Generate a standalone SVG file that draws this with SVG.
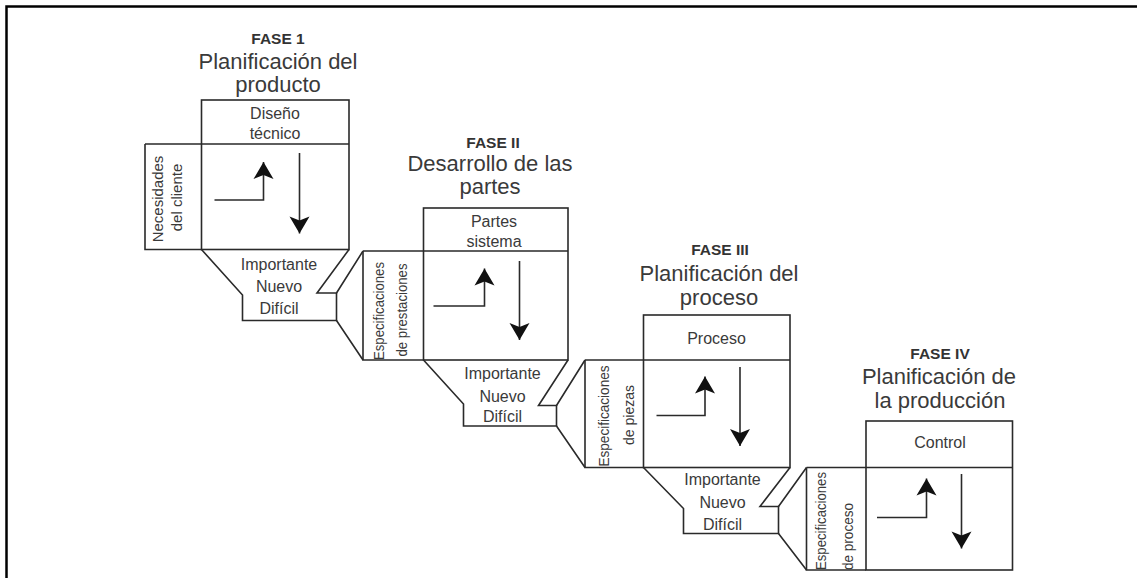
<svg xmlns="http://www.w3.org/2000/svg" width="1137" height="578" viewBox="0 0 1137 578">
  <style>
    .frame { fill: none; stroke: #000; stroke-width: 2.5; }
    .ln { fill: none; stroke: #2a2a2a; stroke-width: 1.6; stroke-linejoin: miter; }
    .arr { fill: none; stroke: #2a2a2a; stroke-width: 1.6; marker-end: url(#head); }
    .fase { font-family: "Liberation Sans", Arial, sans-serif; font-weight: bold; font-size: 15.5px; fill: #333; text-anchor: middle; }
    .tit { font-family: "Liberation Sans", Arial, sans-serif; font-size: 22px; fill: #3a3a3a; text-anchor: middle; }
    .lbl { font-family: "Liberation Sans", Arial, sans-serif; font-size: 16px; fill: #3a3a3a; text-anchor: middle; }
    .tab { font-family: "Liberation Sans", Arial, sans-serif; font-size: 15px; fill: #3a3a3a; text-anchor: middle; }
  </style>
  <defs>
    <marker id="head" markerUnits="userSpaceOnUse" markerWidth="20" markerHeight="24" viewBox="-18 -12 20 24" refX="0" refY="0" orient="auto">
      <path d="M0,0 L-17,-10 L-13,0 L-17,10 Z" fill="#111"/>
    </marker>
  </defs>

  <rect width="1137" height="578" fill="#fff"/>
  <!-- page frame: top and left rules -->
  <path class="frame" d="M6.5,578 V6.5 H1137"/>

  <!-- FASE 1 -->
  <g id="fase1">
    <text class="fase" x="278" y="43.5">FASE 1</text>
    <text class="tit" x="278" y="68.5">Planificación del</text>
    <text class="tit" x="278" y="91.5">producto</text>
    <rect class="ln" x="201.5" y="100" width="147.5" height="149.5"/>
    <path class="ln" d="M145,144 H349 M145,144 V249.5 H201.5"/>
    <text class="lbl" x="275" y="118.5">Diseño</text>
    <text class="lbl" x="275" y="138.5">técnico</text>
    <text class="tab" transform="translate(163,199) rotate(-90)">Necesidades</text>
    <text class="tab" transform="translate(181.5,197.5) rotate(-90)">del cliente</text>
    <path class="arr" d="M214.5,200 H263.5 V162"/>
    <path class="arr" d="M299.5,153 V233.5"/>
    <path class="ln" d="M201.5,249.5 L242.5,295 V320.5 H336.5 V293 H317 L349,249.5"/>
    <text class="lbl" x="279" y="270">Importante</text>
    <text class="lbl" x="279" y="291.5">Nuevo</text>
    <text class="lbl" x="279" y="314">Difícil</text>
  </g>

  <!-- FASE II -->
  <g id="fase2">
    <text class="fase" x="493" y="147.5">FASE II</text>
    <text class="tit" x="490" y="170.5">Desarrollo de las</text>
    <text class="tit" x="490" y="193.5">partes</text>
    <rect class="ln" x="423.5" y="208" width="144.5" height="152"/>
    <path class="ln" d="M363,251 H568 M363,251 V360 H423.5"/>
    <text class="lbl" x="494" y="226.5">Partes</text>
    <text class="lbl" x="494" y="247">sistema</text>
    <text class="tab" transform="translate(384,311) rotate(-90)" textLength="98" lengthAdjust="spacingAndGlyphs">Especificaciones</text>
    <text class="tab" transform="translate(407,310) rotate(-90)" textLength="93" lengthAdjust="spacingAndGlyphs">de prestaciones</text>
    <path class="arr" d="M433.5,306 H484.5 V268.5"/>
    <path class="arr" d="M519.5,261 V340"/>
    <path class="ln" d="M423.5,360 L463.5,404 V426 H556.5 V405.5 H538.5 L568,360"/>
    <text class="lbl" x="502.5" y="378.5">Importante</text>
    <text class="lbl" x="502.5" y="401.5">Nuevo</text>
    <text class="lbl" x="502.5" y="421.5">Difícil</text>
  </g>

  <!-- FASE III -->
  <g id="fase3">
    <text class="fase" x="720" y="255">FASE III</text>
    <text class="tit" x="719" y="280.5">Planificación del</text>
    <text class="tit" x="719" y="305">proceso</text>
    <rect class="ln" x="643.5" y="315" width="146.5" height="152.5"/>
    <path class="ln" d="M585,360 H790 M585,360 V467.5 H643.5"/>
    <text class="lbl" x="716.5" y="344">Proceso</text>
    <text class="tab" transform="translate(609,416) rotate(-90)" textLength="101" lengthAdjust="spacingAndGlyphs">Especificaciones</text>
    <text class="tab" transform="translate(633.5,415) rotate(-90)" textLength="60" lengthAdjust="spacingAndGlyphs">de piezas</text>
    <path class="arr" d="M656.5,415.5 H705 V376.5"/>
    <path class="arr" d="M740,367 V446"/>
    <path class="ln" d="M643.5,467.5 L683.5,508.5 V533.5 H778.5 V506.5 H760 L790,467.5"/>
    <text class="lbl" x="722.5" y="485">Importante</text>
    <text class="lbl" x="722.5" y="507.5">Nuevo</text>
    <text class="lbl" x="722.5" y="529.5">Difícil</text>
  </g>

  <!-- FASE IV -->
  <g id="fase4">
    <text class="fase" x="940" y="359">FASE IV</text>
    <text class="tit" x="939" y="384">Planificación de</text>
    <text class="tit" x="940" y="408">la producción</text>
    <rect class="ln" x="866" y="421" width="146.5" height="149"/>
    <path class="ln" d="M806.5,467.5 H1012.5 M806.5,467.5 V570 H866"/>
    <text class="lbl" x="940" y="448">Control</text>
    <text class="tab" style="text-anchor:start" transform="translate(826,570) rotate(-90)" textLength="98" lengthAdjust="spacingAndGlyphs">Especificaciones</text>
    <text class="tab" style="text-anchor:start" transform="translate(853,570) rotate(-90)" textLength="67" lengthAdjust="spacingAndGlyphs">de proceso</text>
    <path class="arr" d="M877,517.5 H926.5 V478.5"/>
    <path class="arr" d="M961.5,474 V548.5"/>
  </g>

  <!-- links from each phase output to the next phase input -->
  <g id="connectors">
    <path class="ln" d="M336.5,293 L363,251 M336.5,320.5 L363,360"/>
    <path class="ln" d="M556.5,405.5 L585,360 M556.5,426 L585,467.5"/>
    <path class="ln" d="M778.5,506.5 L806.5,467.5 M778.5,533.5 L806.5,570"/>
  </g>
</svg>
